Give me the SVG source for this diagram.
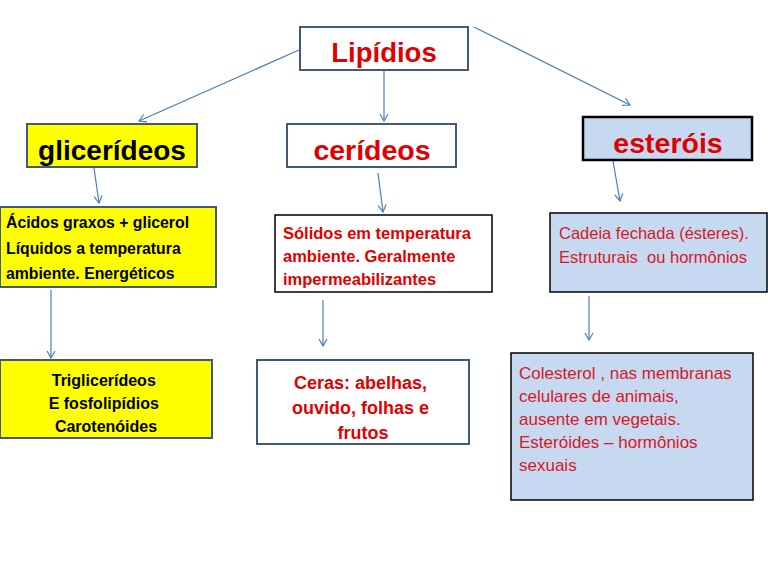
<svg xmlns="http://www.w3.org/2000/svg" width="768" height="576" viewBox="0 0 768 576">
<defs>
<marker id="arr" markerWidth="10" markerHeight="10" refX="8" refY="5" orient="auto" markerUnits="userSpaceOnUse">
<path d="M1,1 L8,5 L1,9" fill="none" stroke="#4a7ebb" stroke-width="1.2"/>
</marker>
</defs>
<style>
text{font-family:"Liberation Sans",Arial,sans-serif}
.c{fill:none;stroke:#4a7ebb;stroke-width:1.2;marker-end:url(#arr)}
.b{font-weight:bold}
.red{fill:#e00000}
.blk{fill:#000}
.yb{fill:#ffff00;stroke:#41597a;stroke-width:2}
.wb{fill:#fff;stroke:#41597a;stroke-width:2}
.wk{fill:#fff;stroke:#000;stroke-width:1.5}
.lb{fill:#c6d9f1;stroke:#000;stroke-width:1.5}
.lbt{fill:#c6d9f1;stroke:#000;stroke-width:2.5}
.rn{fill:#d8171f}
</style>
<rect width="768" height="576" fill="#fff"/>
<g id="connectors">
<line class="c" x1="299" y1="50" x2="139" y2="121"/>
<line class="c" x1="384" y1="70" x2="384" y2="121"/>
<line class="c" x1="474" y1="27" x2="630" y2="105"/>
<line class="c" x1="93" y1="161" x2="99" y2="203"/>
<line class="c" x1="378" y1="173" x2="383" y2="212"/>
<line class="c" x1="613" y1="161" x2="620" y2="201"/>
<line class="c" x1="51" y1="290" x2="51" y2="358"/>
<line class="c" x1="323" y1="300" x2="323" y2="346"/>
<line class="c" x1="589" y1="296" x2="589" y2="340"/>
</g>
<g id="lipidios">
<rect class="wb" x="300" y="27" width="168" height="43"/>
<text class="b red" x="384" y="62" font-size="27.5" text-anchor="middle">Lipídios</text>
</g>
<g id="gliceridios">
<rect class="yb" x="27" y="124" width="170" height="43"/>
<text class="b blk" x="112" y="160" font-size="28" text-anchor="middle">glicerídeos</text>
</g>
<g id="cerideos">
<rect class="wb" x="287" y="124" width="169" height="43"/>
<text class="b red" x="372" y="160" font-size="28.5" text-anchor="middle">cerídeos</text>
</g>
<g id="esterois">
<rect class="lbt" x="583" y="117" width="169" height="43"/>
<text class="b red" x="668" y="153" font-size="28.5" text-anchor="middle">esteróis</text>
</g>
<g id="glic-desc">
<rect class="yb" x="0" y="207" width="216" height="80"/>
<text class="b blk" font-size="15.8">
<tspan x="6" y="228">Ácidos graxos + glicerol</tspan>
<tspan x="6" y="254">Líquidos a temperatura</tspan>
<tspan x="6" y="279">ambiente. Energéticos</tspan>
</text>
</g>
<g id="cer-desc">
<rect class="wk" x="275" y="215" width="217" height="77"/>
<text class="b red" font-size="16.5">
<tspan x="283" y="239">Sólidos em temperatura</tspan>
<tspan x="283" y="262">ambiente. Geralmente</tspan>
<tspan x="283" y="285">impermeabilizantes</tspan>
</text>
</g>
<g id="est-desc">
<rect class="lb" x="550" y="213" width="217" height="79"/>
<text class="rn" font-size="16.5" style="white-space:pre">
<tspan x="559" y="239">Cadeia fechada (ésteres).</tspan>
<tspan x="559" y="263">Estruturais  ou hormônios</tspan>
</text>
</g>
<g id="glic-ex">
<rect class="yb" x="0" y="360" width="212" height="78"/>
<text class="b blk" font-size="16" text-anchor="middle">
<tspan x="106" y="386">Triglicerídeos</tspan>
<tspan x="106" y="409">E fosfolipídios</tspan>
<tspan x="106" y="432">Carotenóides</tspan>
</text>
</g>
<g id="cer-ex">
<rect class="wb" x="257" y="360" width="212" height="84"/>
<text class="b red" font-size="18" text-anchor="middle">
<tspan x="363" y="389">Ceras: abelhas,</tspan>
<tspan x="363" y="414">ouvido, folhas e</tspan>
<tspan x="363" y="439">frutos</tspan>
</text>
</g>
<g id="est-ex">
<rect class="lb" x="511" y="353" width="242" height="147"/>
<text class="rn" font-size="17">
<tspan x="519" y="379">Colesterol , nas membranas</tspan>
<tspan x="519" y="402">celulares de animais,</tspan>
<tspan x="519" y="425">ausente em vegetais.</tspan>
<tspan x="519" y="448">Esteróides – hormônios</tspan>
<tspan x="519" y="471">sexuais</tspan>
</text>
</g>
</svg>
